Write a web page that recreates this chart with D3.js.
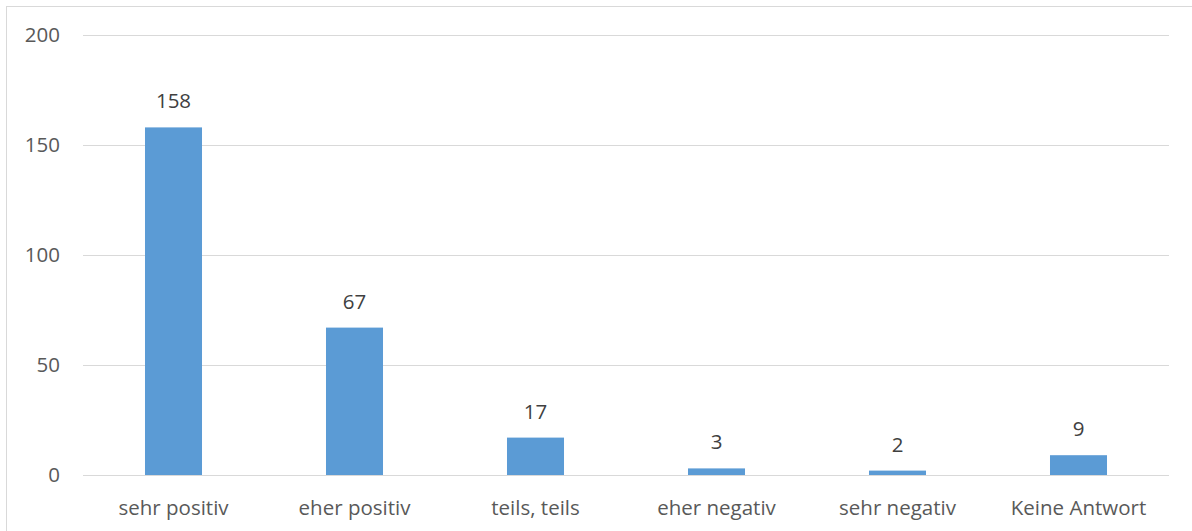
<!DOCTYPE html>
<html><head><meta charset="utf-8">
<script src="https://cdn.jsdelivr.net/npm/d3@7"></script>
<style>body{margin:0;background:#fff}svg{display:block}</style>
</head><body>
<script>
const categories = ["sehr positiv","eher positiv","teils, teils","eher negativ","sehr negativ","Keine Antwort"];
const values = [158, 67, 17, 3, 2, 9];
const yTicks = [0, 50, 100, 150, 200];

const W = 1192, H = 531;
const m = {left: 83, right: 1169, top: 35, bottom: 475};
const font = "'Open Sans', sans-serif";
const fs = "20.5px";
const svg = d3.select("body").append("svg").attr("width", W).attr("height", H);

svg.append("rect").attr("x", 6.5).attr("y", 6.5).attr("width", W).attr("height", H)
  .attr("fill", "none").attr("stroke", "#d9d9d9").attr("stroke-width", 1);

const x = d3.scaleBand().domain(categories).range([m.left, m.right]).paddingInner(0.685).paddingOuter(0.3425);
const y = d3.scaleLinear().domain([0, 200]).range([m.bottom, m.top]);

const yAxis = d3.axisLeft(y).tickValues(yTicks).tickSize(-(m.right - m.left)).tickPadding(23);
const gy = svg.append("g").attr("transform", `translate(${m.left},0)`).call(yAxis);
gy.select(".domain").remove();
gy.selectAll(".tick line").attr("stroke", "#d9d9d9").attr("stroke-width", 1);
gy.selectAll(".tick text").attr("fill", "#595959").style("font-family", font).style("font-size", fs);

const xAxis = d3.axisBottom(x).tickSize(0).tickPadding(25);
const gx = svg.append("g").attr("transform", `translate(0,${m.bottom})`).call(xAxis);
gx.select(".domain").remove();
gx.selectAll(".tick text").attr("fill", "#595959").style("font-family", font).style("font-size", fs);

svg.append("g").selectAll("rect").data(values).join("rect")
  .attr("x", (d, i) => x(categories[i]))
  .attr("width", x.bandwidth())
  .attr("y", d => y(d))
  .attr("height", d => y(0) - y(d))
  .attr("fill", "#5b9bd5");

svg.append("g").selectAll("text").data(values).join("text")
  .attr("x", (d, i) => x(categories[i]) + x.bandwidth() / 2)
  .attr("y", d => y(d) - 19)
  .attr("text-anchor", "middle")
  .attr("fill", "#404040")
  .style("font-family", font).style("font-size", fs)
  .text(d => d);
</script>
</body></html>
